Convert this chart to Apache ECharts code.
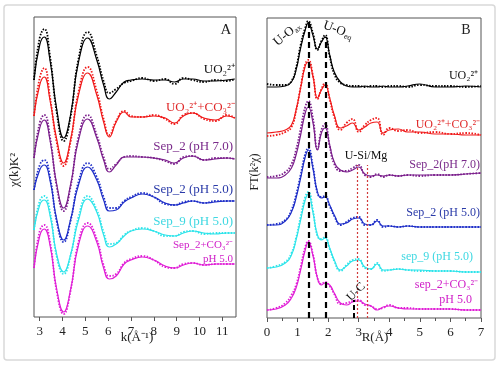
<!DOCTYPE html>
<html><head><meta charset="utf-8">
<script src="https://cdn.jsdelivr.net/npm/echarts@6/dist/echarts.min.js"></script>
<style>html,body{margin:0;padding:0;background:#fff}#c{width:500px;height:365px}</style>
</head><body><div id="c"></div>
<script>
// ---------- Panel A : k^2 chi(k), stacked ----------
const kValues = [2.75,3.0,3.2,3.45,3.75,4.05,4.35,4.7,5.1,5.5,5.8,6.05,6.35,6.7,7.0,7.5,8.0,8.5,8.9,9.3,9.7,10.2,10.7,11.2,11.55];
const kTicks = [3,4,5,6,7,8,9,10,11];
const A_uo2_fit  = [23.7,27.2,28.0,25.7,20.7,17.9,20.2,25.5,27.9,25.7,23.2,21.8,22.5,23.5,23.7,23.8,23.7,23.7,23.5,23.8,23.8,23.6,23.6,23.7,23.8];
const A_uo2_exp  = [23.7,27.9,28.8,26.1,20.4,17.6,20.0,25.8,28.5,26.1,23.6,22.4,22.8,23.4,23.6,23.9,23.6,23.8,23.3,23.9,23.7,23.5,23.7,23.6,23.8];
const A_co3_fit  = [20.1,23.2,24.0,21.7,17.7,15.4,17.7,22.2,24.4,22.2,19.5,18.0,19.5,20.5,20.0,20.0,20.1,19.9,19.4,20.1,20.4,19.9,19.7,20.1,19.9];
const A_co3_exp  = [20.1,23.9,24.9,22.0,17.4,15.1,17.5,22.5,25.0,22.6,19.8,18.2,19.6,20.6,20.1,20.0,20.2,19.8,19.3,20.2,20.4,19.8,19.6,20.2,19.9];
const A_s2p7_fit = [15.9,18.9,19.7,17.7,13.2,10.9,13.2,17.7,19.8,17.9,15.7,14.5,15.2,16.0,16.0,16.0,15.9,15.7,15.4,15.9,16.1,15.7,15.8,15.9,15.8];
const A_s2p7_exp = [15.9,19.4,20.2,18.0,13.0,10.6,13.0,18.0,20.2,18.2,16.0,14.8,15.3,16.0,16.1,16.0,15.9,15.6,15.3,16.0,16.1,15.7,15.9,15.9,15.8];
const A_s2p5_fit = [12.7,14.7,15.2,13.7,9.7,7.7,9.7,13.2,15.0,13.7,11.7,10.6,10.7,11.5,11.9,12.3,12.0,11.4,11.2,11.4,11.6,11.4,11.5,11.6,11.6];
const A_s2p5_exp = [12.7,15.2,15.7,14.0,9.5,7.5,9.6,13.5,15.4,14.0,12.0,10.9,10.9,11.6,12.0,12.4,12.0,11.3,11.2,11.5,11.6,11.4,11.6,11.6,11.6];
const A_s9p5_fit = [8.7,11.2,11.7,10.2,6.2,4.5,6.2,9.7,11.8,10.5,8.2,7.0,7.3,8.1,8.6,8.8,8.6,8.2,8.1,8.4,8.6,8.4,8.3,8.4,8.4];
const A_s9p5_exp = [8.7,11.6,12.1,10.5,6.0,4.3,6.1,10.0,12.1,10.7,8.5,7.3,7.4,8.2,8.6,8.9,8.6,8.1,8.1,8.5,8.6,8.3,8.4,8.4,8.4];
const A_s2c_fit  = [4.9,8.1,8.8,7.2,2.7,0.5,2.7,7.2,9.1,7.5,4.9,3.8,4.1,5.3,5.7,6.0,5.7,5.1,4.9,5.2,5.4,5.2,5.3,5.3,5.3];
const A_s2c_exp  = [4.9,8.6,9.2,7.5,2.5,0.3,2.6,7.5,9.4,7.8,5.2,4.1,4.3,5.4,5.8,6.1,5.7,5.0,4.9,5.3,5.4,5.2,5.3,5.3,5.3];

// ---------- Panel B : FT magnitude, stacked ----------
const rValues = [0,0.3,0.6,0.8,0.95,1.1,1.25,1.35,1.5,1.65,1.78,1.9,2.05,2.2,2.4,2.6,2.8,3.0,3.2,3.4,3.6,3.8,4.0,4.3,4.6,5.0,5.5,6.0,6.5,7.0];
const rTicks = [0,1,2,3,4,5,6,7];
const B_uo2_fit  = [23.1,23.1,23.2,23.6,24.8,27.0,28.8,29.5,28.3,26.9,27.6,28.1,26.3,24.6,23.6,23.2,23.1,23.1,23.2,23.1,23.1,23.2,23.1,23.1,23.2,23.4,23.1,23.1,23.2,23.1];
const B_uo2_exp  = [23.4,23.3,23.3,23.7,25.0,27.3,29.0,29.7,28.5,26.8,27.7,28.3,26.2,24.4,23.5,23.3,23.2,23.2,23.1,23.2,23.2,23.1,23.2,23.2,23.1,23.3,23.2,23.2,23.1,23.2];
const B_co3_fit  = [18.5,18.6,18.8,19.3,20.8,23.0,25.2,25.6,24.2,22.0,22.8,23.3,22.0,20.3,19.0,19.2,19.5,18.8,19.1,19.5,19.6,18.5,18.8,18.9,18.6,18.6,18.4,18.4,18.3,18.3];
const B_co3_exp  = [18.2,18.3,18.6,19.1,20.7,23.1,25.4,25.8,24.3,21.9,22.9,23.5,21.9,20.1,18.8,19.5,19.9,18.6,19.3,19.8,20.0,18.3,19.0,18.7,18.8,18.5,18.6,18.4,18.5,18.3];
const B_s2p7_fit = [14.0,14.0,14.3,15.0,16.3,18.3,20.5,21.1,19.6,16.8,18.5,19.0,17.3,15.6,14.8,14.6,14.8,15.1,14.4,14.2,14.3,14.2,14.3,14.2,14.3,14.3,14.3,14.3,14.4,14.5];
const B_s2p7_exp = [14.1,14.2,14.6,15.4,16.8,18.9,21.1,21.7,20.0,16.9,18.8,19.4,17.2,15.4,14.7,14.7,15.0,15.3,14.3,14.1,14.4,14.1,14.3,14.2,14.3,14.2,14.3,14.3,14.4,14.5];
const B_s2p5_fit = [9.3,9.3,9.7,10.6,12.0,14.0,16.1,16.8,15.0,12.6,12.0,12.1,11.3,10.3,9.4,9.5,9.9,10.0,9.4,9.3,9.7,9.2,9.2,9.1,9.2,9.1,9.1,9.1,9.1,9.1];
const B_s2p5_exp = [9.3,9.4,9.8,10.8,12.3,14.3,16.4,17.0,15.2,12.5,12.1,12.2,11.2,10.2,9.3,9.6,10.0,10.1,9.3,9.3,9.8,9.1,9.2,9.1,9.2,9.1,9.1,9.1,9.1,9.1];
const B_s9p5_fit = [5.0,5.1,5.5,6.3,7.8,9.8,11.8,12.4,10.6,8.3,7.8,8.0,7.0,5.8,4.8,5.2,5.7,5.8,5.1,4.9,5.4,4.8,4.8,4.9,4.8,4.8,4.7,4.7,4.6,4.6];
const B_s9p5_exp = [5.0,5.2,5.6,6.5,8.0,10.1,12.1,12.6,10.8,8.2,7.9,8.1,6.9,5.7,4.7,5.3,5.8,5.9,5.0,4.9,5.5,4.7,4.8,4.9,4.8,4.7,4.7,4.7,4.6,4.6];
const B_s2c_fit  = [0.8,0.9,1.3,2.0,3.0,4.8,6.8,7.6,6.3,4.0,3.3,3.5,3.3,2.5,1.5,1.3,1.6,1.7,1.4,1.2,0.8,1.1,1.2,1.0,0.9,0.9,0.9,0.9,0.8,0.8];
const B_s2c_exp  = [0.8,1.0,1.5,2.3,3.3,5.1,7.1,7.7,6.4,4.0,3.4,3.6,3.2,2.4,1.4,1.5,1.7,1.8,1.3,1.2,0.9,1.0,1.3,1.0,1.0,0.9,0.9,0.9,0.8,0.8];

// reference lines in panel B (R positions)
const shellLinesR = [1.38, 1.93];
const shellLineTops = [29.6, 28.1];
const siLinesR = [2.95, 3.28];
const siLineTop = 15.3;
const ucLineR = 2.85;
const ucLineTop = 1.8;

const colors = ['#000000','#f01a1a','#7b1f8c','#1f2fc8','#2ee4ea','#e01ed6'];
const pair = (xs, ys) => xs.map((x, i) => [x, ys[i]]);

const A_sets = [[A_uo2_fit,A_uo2_exp],[A_co3_fit,A_co3_exp],[A_s2p7_fit,A_s2p7_exp],[A_s2p5_fit,A_s2p5_exp],[A_s9p5_fit,A_s9p5_exp],[A_s2c_fit,A_s2c_exp]];
const B_sets = [[B_uo2_fit,B_uo2_exp],[B_co3_fit,B_co3_exp],[B_s2p7_fit,B_s2p7_exp],[B_s2p5_fit,B_s2p5_exp],[B_s9p5_fit,B_s9p5_exp],[B_s2c_fit,B_s2c_exp]];

const series = [];
function addSets(sets, xs, ai) {
  sets.forEach((s, i) => {
    series.push({type:'line', xAxisIndex:ai, yAxisIndex:ai, data:pair(xs, s[1]), smooth:0.5, showSymbol:false, silent:true,
      lineStyle:{color:colors[i], width:1.8, type:[1.5,1.5]}, z:3});
    series.push({type:'line', xAxisIndex:ai, yAxisIndex:ai, data:pair(xs, s[0]), smooth:0.5, showSymbol:false, silent:true,
      lineStyle:{color:colors[i], width:1.2}, z:4});
  });
}
addSets(A_sets, kValues, 0);
addSets(B_sets, rValues, 1);

const ml = [];
shellLinesR.forEach((r, i) => ml.push([{coord:[r,0], lineStyle:{color:'#000', width:2.2, type:[6,4]}},{coord:[r, shellLineTops[i]]}]));
siLinesR.forEach(r => ml.push([{coord:[r,0], lineStyle:{color:'#d03a3a', width:1.2, type:[2,2]}},{coord:[r, siLineTop]}]));
ml.push([{coord:[ucLineR,0], lineStyle:{color:'#000', width:2, type:[5,3]}},{coord:[ucLineR, ucLineTop]}]);
series.push({type:'line', xAxisIndex:1, yAxisIndex:1, data:[], silent:true,
  markLine:{symbol:'none', silent:true, label:{show:false}, animation:false, data:ml}});

const FF = '"Liberation Serif", "Times New Roman", serif';
const axisLbl = {fontFamily:FF, fontSize:13, color:'#222', margin:8};

const T = (x, y, text, color, size, align, rot) => ({
  type:'text', x:x, y:y, rotation:rot||0,
  style:{text:text, fill:color, font:(size||12)+'px '+FF, textAlign:align||'right', textVerticalAlign:'middle'}, z:10});

const RT = (x, y, main, sub, rot) => ({
  type:'text', x:x, y:y, rotation:rot||0, z:10,
  style:{text:'{a|' + main + '}{s|' + sub + '}', textAlign:'center', textVerticalAlign:'middle',
    rich:{a:{fontFamily:FF, fontSize:13, fill:'#111', lineHeight:16},
          s:{fontFamily:FF, fontSize:8, fill:'#111', padding:[7,0,0,0], lineHeight:16}}}
});

const option = {
  animation:false,
  backgroundColor:'#fff',
  grid:[
    {left:34, top:17, width:202, height:300, show:true, borderColor:'#555', borderWidth:1, backgroundColor:'transparent'},
    {left:267, top:18, width:214, height:300, show:true, borderColor:'#555', borderWidth:1, backgroundColor:'transparent'}
  ],
  xAxis:[
    {type:'value', gridIndex:0, min:2.75, max:11.6, axisLine:{show:false}, splitLine:{show:false},
      axisTick:{show:true, customValues:kTicks, length:4, lineStyle:{color:'#555'}},
      axisLabel:Object.assign({customValues:kTicks}, axisLbl)},
    {type:'value', gridIndex:1, min:0, max:7, interval:1, axisLine:{show:false}, splitLine:{show:false},
      axisTick:{show:true, length:4, lineStyle:{color:'#555'}},
      minorTick:{show:true, splitNumber:2, length:3, lineStyle:{color:'#555'}},
      axisLabel:axisLbl}
  ],
  yAxis:[
    {type:'value', gridIndex:0, min:0, max:30, show:false},
    {type:'value', gridIndex:1, min:0, max:30, show:false}
  ],
  series:series,
  graphic:[
    {type:'rect', shape:{x:4, y:5, width:491, height:355, r:3}, style:{fill:'none', stroke:'#d9d9d9', lineWidth:1.5}, z:0},
    // Panel A texts
    T(226, 30, 'A', '#222', 15, 'center'),
    T(235, 70, 'UO₂²⁺', '#111', 13),
    T(235, 108, 'UO₂²⁺+CO₃²⁻', '#e02a2a', 13),
    T(233, 147, 'Sep_2 (pH 7.0)', '#7a2a8a', 13),
    T(233, 190, 'Sep_2 (pH 5.0)', '#2a3aa8', 13),
    T(233, 222, 'Sep_9 (pH 5.0)', '#3fd8e2', 13),
    T(233, 245, 'Sep_2+CO₃²⁻', '#d020c8', 11),
    T(233, 259, 'pH 5.0', '#d020c8', 11),
    T(137, 338, 'k(Å⁻¹)', '#222', 13, 'center'),
    T(15, 170, 'χ(k)K²', '#222', 13, 'center', Math.PI/2),
    // Panel B texts
    T(466, 30, 'B', '#222', 14, 'center'),
    T(478, 76, 'UO₂²⁺', '#111', 12),
    T(480, 125, 'UO₂²⁺+CO₃²⁻', '#e02a2a', 12),
    T(366, 156, 'U-Si/Mg', '#111', 12, 'center'),
    T(480, 165, 'Sep_2(pH 7.0)', '#7a2a8a', 12),
    T(480, 213, 'Sep_2 (pH 5.0)', '#2a3aa8', 12),
    T(473, 257, 'sep_9 (pH 5.0)', '#3fd8e2', 12),
    T(478, 285, 'sep_2+CO₃²⁻', '#d020c8', 12),
    T(472, 300, 'pH 5.0', '#d020c8', 12),
    T(356, 292, 'U-C', '#111', 12, 'center', Math.PI/4),
    RT(287, 34, 'U-O', 'ax', 0.7),
    RT(338, 30, 'U-O', 'eq', -0.35),
    T(375, 338, 'R(Å)', '#222', 13, 'center'),
    T(255, 172, 'FT(k²χ)', '#222', 12, 'center', Math.PI/2)
  ]
};
echarts.init(document.getElementById('c'), null, {renderer:'canvas'}).setOption(option);
</script>
</body></html>
